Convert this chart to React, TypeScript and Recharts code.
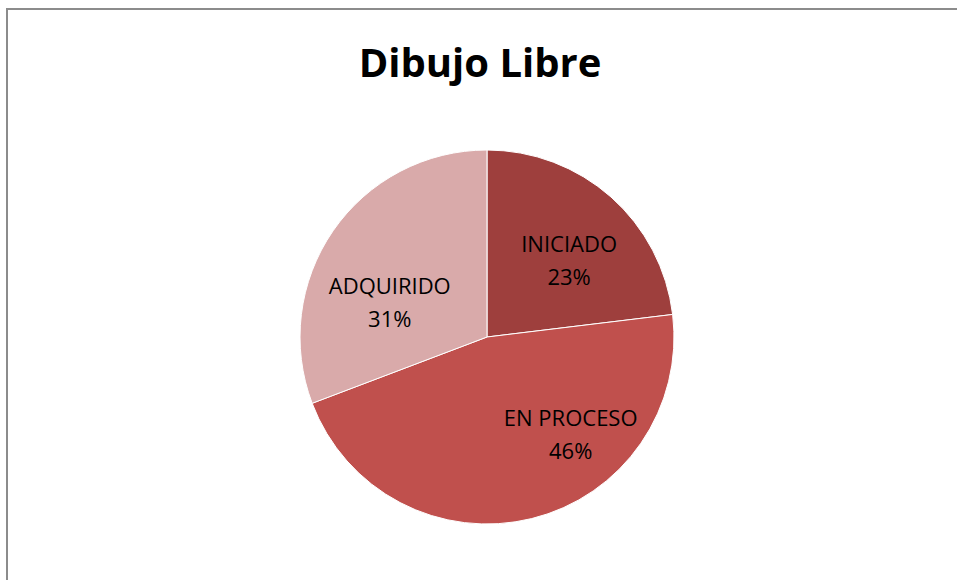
import React from 'react';
import { PieChart, Pie, Cell } from 'recharts';

const categories = ['INICIADO', 'EN PROCESO', 'ADQUIRIDO'];
const counts = [3, 6, 4];

const COLORS = ['#9e3f3d', '#c0504d', '#d9aaaa'];

// per-slice label placement tweaks (angle shift in degrees, radius fraction)
const LABEL_TWEAK = [
  { shift: 5.5, frac: 0.6 },
  { shift: -26.6, frac: 0.69 },
  { shift: -15.6, frac: 0.55 },
];

const data = categories.map((name, i) => ({ name, value: counts[i] }));
const total = counts.reduce((a, b) => a + b, 0);

const FONT = '"Open Sans", sans-serif';

function renderLabel(props: any) {
  const { cx, cy, midAngle, outerRadius, index, name, value } = props;
  const tweak = LABEL_TWEAK[index];
  // recharts angles are ccw from 3 o'clock; convert to cw from 12 o'clock
  const cw = 90 - midAngle + tweak.shift;
  const rad = (cw * Math.PI) / 180;
  const r = outerRadius * tweak.frac;
  const x = cx + r * Math.sin(rad);
  const y = cy - r * Math.cos(rad);
  const pct = Math.round((value / total) * 100);
  return (
    <text
      x={x}
      y={y}
      textAnchor="middle"
      fill="#000"
      fontFamily={FONT}
      fontSize={22}
    >
      <tspan x={x} dy={-9}>
        {name}
      </tspan>
      <tspan x={x} dy={33}>
        {pct}%
      </tspan>
    </text>
  );
}

export default function App() {
  return (
    <div
      style={{
        position: 'absolute',
        left: 0,
        top: 0,
        width: 957,
        height: 580,
        background: '#fff',
        overflow: 'hidden',
      }}
    >
      <div
        style={{
          position: 'absolute',
          left: 6,
          top: 8,
          width: 1000,
          height: 600,
          borderTop: '2px solid #8c8c8c',
          borderLeft: '2px solid #8c8c8c',
        }}
      />
      <div
        style={{
          position: 'absolute',
          left: 0,
          top: 36,
          width: 960,
          textAlign: 'center',
          fontFamily: FONT,
          fontWeight: 700,
          fontSize: 40,
          lineHeight: '52px',
          color: '#000',
        }}
      >
        Dibujo Libre
      </div>
      <div style={{ position: 'absolute', left: 0, top: 0 }}>
        <PieChart
          width={974}
          height={674}
          margin={{ top: 0, right: 0, bottom: 0, left: 0 }}
        >
          <Pie
            data={data}
            dataKey="value"
            nameKey="name"
            cx={487}
            cy={337}
            outerRadius={187}
            startAngle={90}
            endAngle={-270}
            stroke="#fff"
            strokeWidth={1}
            label={renderLabel}
            labelLine={false}
            isAnimationActive={false}
          >
            {data.map((entry, i) => (
              <Cell key={entry.name} fill={COLORS[i]} />
            ))}
          </Pie>
        </PieChart>
      </div>
    </div>
  );
}
